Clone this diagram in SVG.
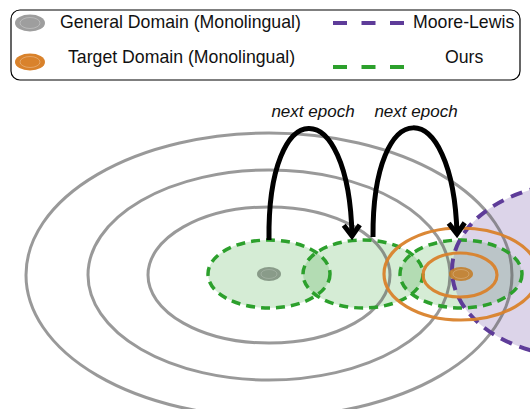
<svg xmlns="http://www.w3.org/2000/svg" width="530" height="409" viewBox="0 0 530 409">
<style>
text{font-family:"Liberation Sans",Arial,sans-serif;fill:#111}
.leg{font-size:17.7px}
.lbl{font-size:17px;font-style:italic;text-anchor:middle}
.gray{fill:none;stroke:#555;stroke-opacity:0.6;stroke-width:3}
.gfill{fill:#2ca02c;fill-opacity:0.2}
.gdash{fill:none;stroke:#2ca02c;stroke-width:3.5;stroke-dasharray:9 6}
.orange{fill:none;stroke:#d9822b;stroke-width:3.2;stroke-opacity:0.95}
.arrow{fill:none;stroke:#000;stroke-width:5}
</style>
<defs>
<marker id="ah" markerUnits="userSpaceOnUse" markerWidth="30" markerHeight="30" viewBox="-15 -15 30 30" refX="0" refY="0" orient="auto">
<path d="M-11,-8 L0,0 L-11,8" fill="none" stroke="#000" stroke-width="5"/>
</marker>
</defs>
<g id="legend">
<rect x="11" y="10" width="509" height="70" rx="9" fill="#fff" stroke="#000" stroke-width="1.2"/>
<ellipse cx="30" cy="23" rx="15" ry="8.5" fill="#9e9e9e"/>
<ellipse cx="30" cy="23" rx="10" ry="5.5" fill="none" stroke="#fff" stroke-opacity="0.35" stroke-width="0.8"/>
<ellipse cx="30" cy="62" rx="15" ry="8.5" fill="#d9822b"/>
<ellipse cx="30" cy="62" rx="10" ry="5.5" fill="none" stroke="#fff" stroke-opacity="0.35" stroke-width="0.8"/>
<text class="leg" x="60" y="28">General Domain (Monolingual)</text>
<text class="leg" x="68" y="63">Target Domain (Monolingual)</text>
<line x1="333" y1="23" x2="405" y2="23" stroke="#5e3c99" stroke-width="4" stroke-dasharray="14 14.5"/>
<line x1="333" y1="67" x2="405" y2="67" stroke="#2ca02c" stroke-width="4" stroke-dasharray="14 14.5"/>
<text class="leg" x="413" y="28">Moore-Lewis</text>
<text class="leg" x="445" y="63">Ours</text>
</g>
<g id="ours-epoch1">
<ellipse class="gfill" cx="269" cy="274" rx="61" ry="34"/>
</g>
<g id="ours-epoch2">
<ellipse class="gfill" cx="363" cy="274" rx="60" ry="34"/>
</g>
<g id="ours-epoch3">
<ellipse class="gfill" cx="461" cy="274" rx="61" ry="34"/>
</g>
<g id="moore-lewis">
<ellipse cx="580" cy="270" rx="128" ry="87" fill="#5e3c99" fill-opacity="0.22"/>
</g>
<g id="general-domain">
<ellipse class="gray" cx="269" cy="275" rx="243" ry="142"/>
<ellipse class="gray" cx="269" cy="275" rx="181" ry="105"/>
<ellipse class="gray" cx="269" cy="275" rx="121" ry="68"/>
<ellipse cx="269" cy="274" rx="12" ry="7" fill="#4a5a4a" fill-opacity="0.55"/>
<ellipse cx="269" cy="274" rx="8" ry="4.5" fill="none" stroke="#fff" stroke-opacity="0.25" stroke-width="0.7"/>
</g>
<g id="ours-strokes">
<ellipse class="gdash" cx="269" cy="274" rx="61" ry="34"/>
<ellipse class="gdash" cx="363" cy="274" rx="60" ry="34"/>
<ellipse class="gdash" cx="461" cy="274" rx="61" ry="34"/>
</g>
<g id="moore-lewis-stroke">
<ellipse cx="580" cy="270" rx="128" ry="87" fill="none" stroke="#5e3c99" stroke-width="4" stroke-dasharray="12 8"/>
</g>
<g id="target-domain">
<ellipse class="orange" cx="461" cy="274" rx="77" ry="46"/>
<ellipse class="orange" cx="460" cy="275" rx="37" ry="22" stroke-width="3.8"/>
<ellipse cx="461" cy="274" rx="12" ry="7" fill="#c47a22" fill-opacity="0.85"/>
<ellipse cx="461" cy="274" rx="8" ry="4.5" fill="none" stroke="#fff" stroke-opacity="0.3" stroke-width="0.7"/>
</g>
<g id="connectors">
<path class="arrow" d="M269,240 C267,92 349,92 352,236" marker-end="url(#ah)"/>
<path class="arrow" d="M373,237 C372,92 453,92 457,234" marker-end="url(#ah)"/>
</g>
<g id="labels">
<text class="lbl" x="313" y="117">next epoch</text>
<text class="lbl" x="416" y="117">next epoch</text>
</g>
</svg>
